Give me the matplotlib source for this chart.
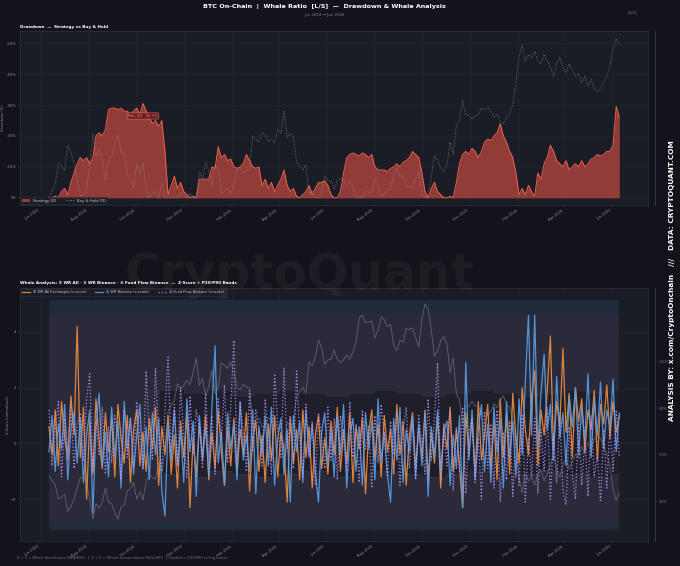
import numpy as np
import pandas as pd
import matplotlib
matplotlib.use("Agg")
import matplotlib.pyplot as plt
import matplotlib.dates as mdates
from matplotlib.patches import Patch
from matplotlib.lines import Line2D

# --- data (4-day sampling, Jun 2024 -> Jun 2026) ---
dates = pd.date_range("2024-06-12", periods=183, freq="4D")

btc_price_k = [
    68, 66.5, 65, 60.5, 61, 62, 56.5, 58, 60.5, 64,
    67.5, 67.5, 66, 60.5, 54, 59, 57.5, 59.5, 64, 59.5,
    59, 56, 54, 58, 58.5, 63, 64, 65.8, 60.5, 62.8,
    60.3, 66, 68.4, 67.4, 67, 72.3, 68.8, 76, 88.7, 91,
    92.3, 97.8, 96, 97.2, 98.8, 97.4, 101.4, 106, 97.2, 99.4,
    93.7, 96.9, 102.1, 94.6, 96.5, 104.5, 103.7, 102.6, 104.7, 101.4,
    96.5, 95.8, 97.5, 96.6, 96.2, 84.7, 86.1, 86.7, 83.7, 84.3,
    86.8, 86, 87.2, 82.5, 83.8, 76.3, 85.3, 84, 85.1, 93.7,
    95, 96.5, 94.7, 104.7, 103.5, 106.4, 111.7, 109.4, 103.9, 105.4,
    105.6, 108.6, 105.5, 104.6, 105.5, 107, 105.7, 108, 111.3, 119,
    119.8, 117.4, 117.6, 117.9, 112.5, 115, 119.3, 118.3, 116.2, 116.9,
    110.1, 108.4, 111.7, 111.1, 115.5, 115.3, 115.7, 112.6, 109.6, 118.6,
    123.5, 121.7, 115.2, 106.5, 108.4, 111.6, 112.9, 110.6, 101.3, 106,
    94.5, 92.6, 84.7, 90.5, 90.4, 92.1, 90.6, 90.3, 87.8, 88.2,
    87.5, 88.8, 91.3, 90, 92.5, 93.8, 91.3, 90, 86.3, 77.5,
    67.5, 62.5, 68.8, 66.3, 67.5, 65, 68.8, 70, 66.3, 68.8,
    71.3, 75, 70, 67.5, 71.3, 73.8, 70, 72.5, 75, 73.8,
    77.5, 75, 78.8, 76.3, 80, 81.3, 80, 77.5, 75, 71.3,
    63.8, 60, 62.5,
]

strategy_dd = [
    0, 0, -0.5, 0, -2, -3, -1, -5, -8, -11,
    -13, -12, -13, -11, -13, -20, -21, -20, -22, -28.5,
    -29, -29, -28.5, -29, -28, -28, -27, -28, -29, -27,
    -30.5, -28, -26, -24, -25, -23, -25, -15, -1, -4,
    -7, -3, -5, -2, -1, 0, -0.5, 0, -6, -6,
    -6, -6, -10, -9.5, -16.5, -13, -14, -12, -12.5, -10,
    -9.5, -10, -11, -14, -12, -10, -9.5, -10, -4, -6,
    -3, -5, -2, -4, -6, -9, -4, -2, -3, -0.5,
    0, -1, -2, -4, -1, -3, -5, -5, -5.5, -4,
    -1, 0, 0, -2, -8, -13, -14, -14.5, -14, -13.5,
    -14.5, -14, -13, -14, -10, -9, -9, -9, -8.5, -9.5,
    -10, -11, -10, -11.5, -12, -13, -15, -14, -13, -8,
    -2, 0, -3, -5, -2, -1, 0, 0, -0.5, 0,
    -5, -11, -14, -15, -14, -16, -15, -13, -15, -18,
    -19, -18.5, -20, -21, -24, -20, -18, -15, -13, -8,
    -1, -3, -1, -4, -2, -0.5, -8, -6, -11, -13,
    -17, -15, -12, -11, -10, -12, -9, -10, -11, -10,
    -12, -10, -11, -12.5, -13, -14, -13.5, -14, -15, -15,
    -17, -29.5, -26,
]

z_wr_all = [
    0.6, -0.4, 1.2, -0.8, 1.5, 0.2, -0.6, 1.7, 0.3, 4.2,
    -0.5, 1.3, -2.0, 0.8, -1.1, 1.6, 0.1, -0.9, 1.1, -0.3,
    0.9, -1.2, 1.4, 0.2, -0.7, 1.0, -1.4, 0.5, 1.2, -0.8,
    0.4, -1.0, 0.9, -0.2, 1.3, -1.5, 0.6, -0.4, 1.0, -1.1,
    0.3, -1.6, 0.8, -0.5, 1.1, -2.3, 0.2, -1.2, 0.7, -0.6,
    1.0, -1.3, 0.4, -0.9, 1.2, -0.3, -1.5, 0.6, -0.8, 0.9,
    -1.1, 0.5, -0.4, 1.1, -1.7, 0.2, 0.8, -1.0, 0.3, -1.4,
    0.7, -0.6, 1.0, -1.2, 0.4, -0.2, -2.1, 0.9, -0.7, 0.5,
    -1.3, 1.2, -0.5, 0.6, -1.6, 0.3, 1.0, -0.9, 0.2, -1.1,
    0.8, -0.4, 1.3, -1.0, 0.5, -0.7, 1.1, -1.4, 0.6, -0.2,
    0.9, -1.8, 0.4, 1.2, -0.6, 0.7, -1.2, 1.0, -0.3, 0.5,
    -1.1, 1.4, -0.4, 0.8, -1.5, 0.3, 1.1, -0.9, 0.6, -0.5,
    1.2, -1.3, 0.4, -0.7, 1.0, -1.6, 0.7, -0.2, 1.3, -1.0,
    0.5, -0.8, -2.3, 1.1, -0.4, 0.9, -1.2, 1.5, -0.6, 0.3,
    1.4, -0.9, 0.8, -1.3, 1.6, -0.5, 1.0, -1.1, 1.8, 0.2,
    -0.7, 2.0, 0.5, -0.4, 1.7, 2.6, -0.8, 1.2, 0.3, 1.9,
    3.85, -0.2, 1.5, 0.6, 3.4, 0.4, 1.8, -0.5, 2.0, 0.8,
    1.6, -0.3, 1.2, 0.5, 1.9, -0.6, 1.4, 0.7, 2.1, 0.2,
    1.5, 0.4, 1.0,
]

z_wr_binance = [
    -0.3, 1.0, -1.0, 0.7, -0.2, 1.4, -1.3, 0.5, 1.1, -0.7,
    0.9, -1.4, 0.3, 1.2, -2.5, 0.6, 1.8, -0.8, 0.4, -1.2,
    1.3, -0.5, 0.8, -1.6, 1.5, -0.2, 0.9, -1.1, 0.3, 1.4,
    -0.9, 0.6, -1.3, 1.1, -0.4, 0.9, -1.7, -2.6, 0.7, -0.6,
    1.2, -0.8, 0.5, -1.4, 1.6, -0.3, 0.8, -1.9, 1.0, -0.5,
    0.6, -1.2, 1.3, 3.5, -0.7, 0.4, -1.5, 1.1, -0.2, 0.7,
    -1.3, 1.5, -0.6, 0.3, -1.0, 1.2, -1.8, 0.6, -0.4, 1.0,
    -0.8, 1.3, -1.5, 0.2, 0.9, -1.1, 0.5, -2.1, 1.0, -0.3,
    0.8, -1.4, 1.2, -0.5, 0.7, -1.0, -2.1, 0.4, 1.1, -0.8,
    0.5, -1.2, 1.0, -0.4, 1.4, -1.6, 0.3, 0.9, -1.0, 0.6,
    -1.5, 1.1, -0.2, 0.8, -1.3, 1.6, -0.7, 0.4, -1.1, -2.1,
    0.9, -0.6, 1.3, -1.4, 0.5, -0.3, 1.0, -1.2, 0.7, -0.8,
    1.1, -1.9, 0.6, -0.5, 1.2, -1.0, 0.4, 0.8, -1.5, 0.3,
    -0.9, 1.0, -2.3, 2.9, -0.6, 1.2, -1.3, 0.5, 1.4, -1.0,
    0.7, -1.4, 1.3, -0.3, 0.9, -1.6, 1.5, -0.5, 0.8, -1.2,
    1.6, -0.4, 2.2, 4.6, 0.3, 4.6, -0.2, 1.8, 3.2, 0.5,
    1.4, -0.6, 2.4, 0.2, 1.1, -0.8, 1.7, 0.6, 2.0, -0.4,
    1.3, 0.1, 2.5, -0.5, 1.6, 0.3, 2.2, -0.2, 1.2, 0.6,
    2.3, -0.3, 1.1,
]

z_ff_binance = [
    1.2, -0.8, 0.5, 1.5, -1.2, 0.9, -0.3, 1.4, -0.9, 0.7,
    1.1, -0.6, 1.6, 2.5, -1.0, 0.8, -0.4, 1.3, -1.1, 0.6,
    -0.7, 1.0, 0.3, -1.3, 1.2, -0.5, 0.9, -0.8, 1.5, 0.2,
    -0.9, 2.6, 0.4, -0.6, 2.7, 0.1, -1.0, 1.1, 3.1, -0.3,
    1.4, -0.8, 2.0, 0.3, -1.2, 1.7, -0.4, 1.2, 0.6, -0.9,
    1.8, -0.5, 1.0, -1.1, 1.6, 0.2, 2.1, -0.7, 1.3, 3.7,
    -0.6, 1.5, 0.4, -1.0, 1.9, -0.3, 1.2, 0.5, -0.8, 1.6,
    0.2, -1.1, 2.5, 0.7, -0.5, 2.7, -0.2, 1.0, -0.9, 2.6,
    0.3, -1.2, 1.4, -0.4, 0.8, -1.5, 1.1, 0.2, -0.9, 1.3,
    -0.6, 0.9, -1.3, 1.0, 0.1, -1.0, 1.5, -0.5, 0.7, -1.4,
    1.2, -0.2, 0.6, -1.6, 1.0, -0.7, 1.4, 0.3, -1.2, 0.8,
    -0.4, 1.1, -1.5, 0.5, 1.3, -0.9, 0.7, -1.3, 1.0, 0.0,
    -1.1, 1.6, -0.6, 0.9, 2.9, -1.4, 0.5, -0.8, 1.2, -1.7,
    0.6, -1.0, 1.3, -1.8, 0.4, 0.9, -1.4, 0.2, -2.0, 1.1,
    -0.9, 0.7, -1.6, 1.2, -2.1, 0.4, -1.3, 0.8, -1.9, 0.3,
    -1.5, 1.0, -2.1, 0.2, -1.2, 0.9, -1.8, 0.5, -1.0, 1.3,
    -2.0, 0.3, -1.4, 1.1, -1.7, -2.2, 0.6, -1.1, -2.0, 0.8,
    -1.5, 0.2, -1.9, 1.0, -1.2, -0.4, -2.1, 0.5, -1.6, 0.7,
    -1.0, 1.2, -0.5,
]

# static z-score zones and rolling P20/P80 bands (monthly)
zone_outer = [-3.1, 5.15]
zone_inner = [-2.82, 4.64]
roll_dates = pd.date_range("2024-11-01", "2026-06-01", freq="MS").append(pd.DatetimeIndex(["2026-06-10"]))
roll_p80 = [1.9, 1.8, 1.9, 1.7, 1.8, 1.9, 1.8, 1.7, 1.8, 1.9, 1.8, 1.7, 1.8, 1.9, 1.8, 1.7, 1.8, 1.9, 1.8, 1.9, 1.9]
roll_p20 = [-1.1, -1.2, -1.0, -1.1, -1.2, -1.1, -1.0, -1.2, -1.1, -1.0, -1.1, -1.2, -1.1, -1.0, -1.2, -1.1, -1.0, -1.1, -1.2, -1.1, -1.1]

price = pd.Series(btc_price_k, index=dates)
bh_dd = (price / price.cummax() - 1) * 100
strat = pd.Series(strategy_dd, index=dates)

# --- style ---
BG = "#13141b"
PANEL = "#1b1d26"
GRID = "#2a2d38"
TXT = "#8a8d96"
RED = "#d24d43"
EDGE = "#f0604f"
ORANGE = "#f28e3c"
BLUE = "#5a9fe6"
PURPLE = "#b690f0"

plt.rcParams["font.family"] = ["DejaVu Sans"]

fig = plt.figure(figsize=(6.8, 5.66), dpi=100, facecolor=BG)
ax1 = fig.add_axes([0.0294, 0.638, 0.924, 0.307])
ax2 = fig.add_axes([0.0294, 0.044, 0.924, 0.447])

xmin, xmax = pd.Timestamp("2024-05-06"), pd.Timestamp("2026-07-17")


def style_axes(ax):
    ax.set_facecolor(PANEL)
    for s in ax.spines.values():
        s.set_color("#2e3140")
        s.set_linewidth(0.5)
    ax.tick_params(colors="#555866", labelcolor=TXT, labelsize=2.7, length=1.5, width=0.3, pad=1)
    ax.grid(True, color=GRID, linewidth=0.4, alpha=0.6)
    ax.set_axisbelow(True)
    ax.set_xlim(xmin, xmax)
    ax.xaxis.set_major_locator(mdates.MonthLocator(bymonth=[2, 4, 6, 8, 10, 12]))
    ax.xaxis.set_major_formatter(mdates.DateFormatter("%b %Y"))
    for lab in ax.get_xticklabels():
        lab.set_rotation(35)
        lab.set_ha("right")


def right_spine_only(tw):
    for k, s in tw.spines.items():
        s.set_visible(k == "right")
    tw.spines["right"].set_position(("outward", 5))
    tw.spines["right"].set_color("#3a3d4a")
    tw.spines["right"].set_linewidth(0.6)


# ---------- top: drawdown ----------
style_axes(ax1)
ax1.fill_between(strat.index, strat.values, 0, color=RED, alpha=0.65, linewidth=0, zorder=2)
ax1.plot(strat.index, strat.values, color=EDGE, linewidth=0.7, zorder=3)
ax1.plot(bh_dd.index, bh_dd.values, color="#9a9da6", linewidth=0.6, linestyle=":", alpha=0.75, zorder=4)
ax1.set_ylim(2.3, -53.9)
ax1.set_yticks([0, -10, -20, -30, -40, -50])
ax1.yaxis.set_major_formatter(plt.FuncFormatter(lambda v, p: f"{v:.0f}%"))
ax1.set_ylabel("Drawdown (%)", color=TXT, fontsize=2.6, labelpad=1)
ax1.set_title("Drawdown  —  Strategy vs Buy & Hold", loc="left", color="white",
              fontsize=3.0, fontweight="bold", pad=2)

imax = int(np.argmin(strategy_dd))
ax1.annotate(f"Max DD: {strategy_dd[imax]:.1f}%", xy=(dates[imax], strategy_dd[imax]),
             xytext=(0, -9), textcoords="offset points", ha="center", va="center",
             fontsize=2.6, color="#ff8070",
             bbox=dict(boxstyle="round,pad=0.3", fc="#5a1f1f", ec=EDGE, lw=0.5, alpha=0.9), zorder=6)

leg1 = ax1.legend(handles=[Patch(facecolor=RED, alpha=0.65, label="Strategy DD"),
                           Line2D([], [], color="#9a9da6", linestyle=":", lw=0.6, label="Buy & Hold DD")],
                  loc="lower left", ncol=2, fontsize=2.7, frameon=True, facecolor=PANEL,
                  edgecolor="#2e3140", labelcolor="#c8cad0", borderpad=0.4, handlelength=2.2,
                  columnspacing=2.5, borderaxespad=0.2)
leg1.get_frame().set_linewidth(0.4)

tw1 = ax1.twinx()
tw1.set_yticks([])
right_spine_only(tw1)

# ---------- bottom: whale z-scores ----------
style_axes(ax2)
ax2.fill_between(dates, zone_outer[0], zone_outer[1], color="#1f2a3a", linewidth=0, zorder=0.5)
ax2.fill_between(dates, zone_inner[0], zone_inner[1], color="#2b2a3b", linewidth=0, zorder=0.6)
ax2.fill_between(roll_dates, roll_p20, roll_p80, step="post", color="#15161f", alpha=0.55,
                 linewidth=0, zorder=0.7)
ax2.step(roll_dates, roll_p80, where="post", color="#3a3d4c", lw=0.4, ls="--", zorder=0.8)
ax2.step(roll_dates, roll_p20, where="post", color="#3a3d4c", lw=0.4, ls="--", zorder=0.8)

ax2.plot(dates, z_wr_all, color=ORANGE, linewidth=0.9, alpha=0.9, zorder=3,
         label="① WR All Exchanges (z-score)")
ax2.plot(dates, z_wr_binance, color=BLUE, linewidth=0.9, alpha=0.9, zorder=3,
         label="② WR Binance (z-score)")
ax2.plot(dates, z_ff_binance, color=PURPLE, linewidth=0.9, linestyle=":", alpha=0.9, zorder=4,
         label="③ Fund Flow Binance (z-score)")
ax2.set_ylim(-3.5, 5.57)
ax2.set_yticks([-2, 0, 2, 4])
ax2.set_ylabel("Z-Score (normalised)", color=TXT, fontsize=2.6, labelpad=1)
ax2.set_title("Whale Analysis: ① WR All · ② WR Binance · ③ Fund Flow Binance  —  Z-Score + P20/P80 Bands",
              loc="left", color="white", fontsize=3.0, fontweight="bold", pad=3)
leg2 = ax2.legend(loc="upper left", ncol=3, fontsize=2.6, frameon=True, facecolor=PANEL,
                  edgecolor="#2e3140", labelcolor="#c8cad0", borderpad=0.4, handlelength=2.2,
                  columnspacing=2.5, borderaxespad=0.15)
leg2.get_frame().set_linewidth(0.4)

# BTC price context on a twin axis (faint)
tw2 = ax2.twinx()
tw2.plot(price.index, price.values, color="#8d909a", linewidth=0.6, alpha=0.55)
tw2.set_ylim(46.9, 128.6)
tw2.set_yticks([60, 75, 90, 105])
tw2.yaxis.set_major_formatter(plt.FuncFormatter(lambda v, p: f"${v:.0f}K"))
tw2.tick_params(colors="#555866", labelcolor="#6f727c", labelsize=2.3, length=1.5, width=0.3, pad=1)
right_spine_only(tw2)

# ---------- figure text ----------
fig.text(0.477, 0.989, "BTC On-Chain  |  Whale Ratio  [L/S]  —  Drawdown & Whale Analysis",
         ha="center", va="center", color="white", fontsize=4.6, fontweight="bold")
fig.text(0.477, 0.974, "Jun 2024 → Jun 2026", ha="center", va="center", color="#80838c", fontsize=2.8)
fig.text(0.93, 0.978, "[3/4]", ha="center", va="center", color="#6f727c", fontsize=3.0)
fig.text(0.44, 0.514, "CryptoQuant", ha="center", va="center", color="white", alpha=0.045,
         fontsize=35, fontweight="bold", zorder=20)
fig.text(0.988, 0.505, "ANALYSIS BY: x.com/CryptoOnchain   ///   DATA: CRYPTOQUANT.COM",
         rotation=90, ha="center", va="center", color="white", fontsize=5.3, fontweight="bold")
fig.text(0.025, 0.014, "Z > 0 = Whale distribution (BEARISH)  |  Z < 0 = Whale accumulation (BULLISH)  |  "
         "Dashed = P20/P80 rolling bands", ha="left", va="center", color="#6f727c", fontsize=2.6)

fig.savefig("out.png", dpi=100, facecolor=BG)
